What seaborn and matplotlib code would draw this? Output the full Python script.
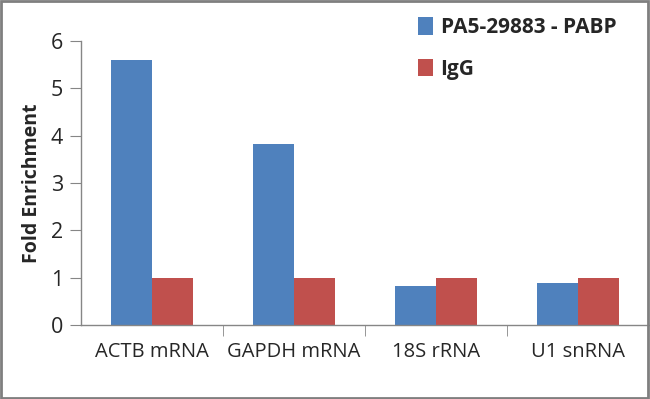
import pandas as pd
import seaborn as sns
import matplotlib.pyplot as plt
from matplotlib.patches import Rectangle

targets = ['ACTB mRNA', 'GAPDH mRNA', '18S rRNA', 'U1 snRNA']
pabp = [5.60, 3.83, 0.82, 0.88]
igg = [1.0, 1.0, 1.0, 1.0]
series = ['PA5-29883 - PABP', 'IgG']
colors = ['#4F81BD', '#C0504D']

df = pd.DataFrame({
    'target': targets * 2,
    'value': pabp + igg,
    'antibody': [series[0]] * 4 + [series[1]] * 4,
})

sns.set_style('white')
plt.rcParams['font.family'] = ['Open Sans', 'DejaVu Sans']

fig = plt.figure(figsize=(6.5, 3.99), dpi=100)
ax = fig.add_axes([0.1246, 0.1855, 0.874, 0.7118])
sns.barplot(data=df, x='target', y='value', hue='antibody', palette=colors,
            width=0.578, saturation=1, linewidth=0, ax=ax)

ax.set_xlim(-0.5, 3.5)
ax.set_ylim(0, 6)
ax.set_yticks(range(7))
ax.set_xlabel('')
ax.set_ylabel('Fold Enrichment', fontsize=14, fontweight='bold', labelpad=6)

for s in ['top', 'right']:
    ax.spines[s].set_visible(False)
for s in ['left', 'bottom']:
    ax.spines[s].set_color('#868686')
    ax.spines[s].set_linewidth(1)

ax.tick_params(axis='y', left=True, length=8, color='#868686', labelsize=15.5, pad=5)
ax.tick_params(axis='x', which='major', length=0, labelsize=14.5, pad=12)
ax.set_xticks([0.5, 1.5, 2.5], minor=True)
ax.tick_params(axis='x', which='minor', bottom=True, length=8, color='#868686')

leg = ax.legend(loc='upper right', bbox_to_anchor=(0.975, 1.15), frameon=False,
                handlelength=0.75, handleheight=0.9, handletextpad=0.35,
                labelspacing=1.0, prop={'size': 15, 'weight': 'bold'})

fig.patches.append(Rectangle((0.002, 0.003), 0.995, 0.994, transform=fig.transFigure,
                             fill=False, edgecolor='#7f7f7f', linewidth=2))

fig.savefig('out.png', dpi=100)
